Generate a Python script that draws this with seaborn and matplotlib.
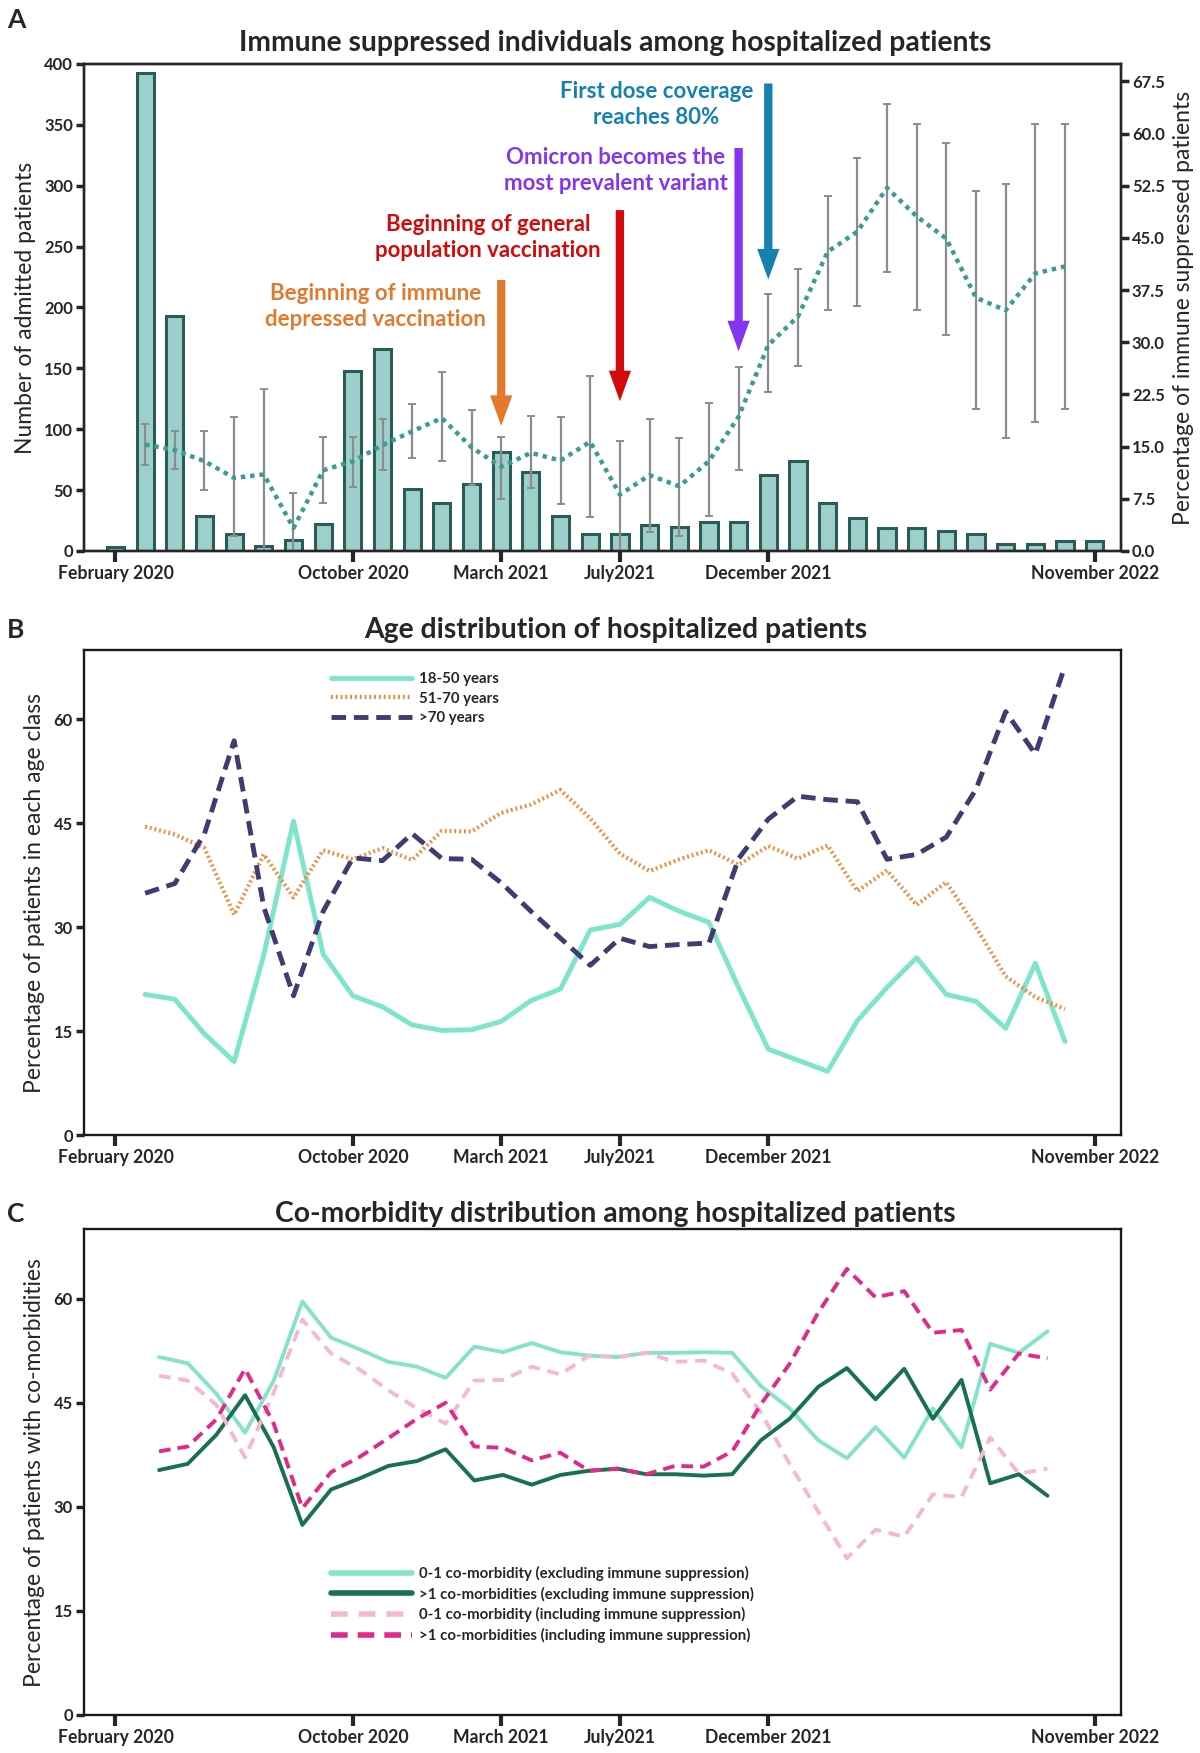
import numpy as np
import matplotlib
matplotlib.use("Agg")
import matplotlib.pyplot as plt
import seaborn as sns

sns.set_style("ticks")
plt.rcParams['font.family'] = ['Lato', 'DejaVu Sans']

# month index 0 = February 2020 ... 33 = November 2022
months = np.arange(34)
tick_pos = [0, 8, 13, 17, 22, 33]
tick_labels = ['February 2020', 'October 2020', 'March 2021', 'July2021',
               'December 2021', 'November 2022']

# panel A
admitted = [3.5, 393, 193, 29, 14, 4, 9, 22, 148, 166, 51, 39, 55, 81, 65, 29, 14,
            14, 21, 20, 24, 24, 62, 74, 39, 27, 19, 19, 16, 14, 6, 6, 8, 8]
pct_months = np.arange(1, 33)
pct_immune = [15.3, 14.5, 12.9, 10.5, 11.0, 3.3, 11.6, 12.9, 15.2, 17.2, 19.1, 14.9,
              12.1, 14.1, 13.0, 15.7, 8.1, 10.9, 9.3, 12.9, 19.3, 29.6, 33.7, 43.0,
              45.9, 52.2, 48.1, 44.9, 36.4, 34.6, 39.9, 40.9]
pct_upper = [18.2, 17.3, 17.3, 19.3, 23.3, 8.3, 16.4, 16.4, 19.0, 21.1, 25.7, 20.2,
             16.4, 19.4, 19.3, 25.2, 15.8, 19.0, 16.2, 21.2, 26.5, 37.0, 40.6, 51.0,
             56.5, 64.3, 61.4, 58.7, 51.7, 52.8, 61.4, 61.4]
pct_lower = [12.3, 11.8, 8.7, 2.2, 0.0, 0.0, 6.9, 9.2, 11.6, 13.3, 12.9, 9.5,
             7.4, 9.0, 6.7, 4.9, 0.0, 2.7, 2.1, 5.0, 11.6, 22.8, 26.6, 34.6,
             35.2, 40.1, 34.7, 31.0, 20.4, 16.3, 18.5, 20.4]

events = ['Beginning of immune\ndepressed vaccination',
          'Beginning of general\npopulation vaccination',
          'Omicron becomes the\nmost prevalent variant',
          'First dose coverage\nreaches 80%']
event_month = [13, 17, 21, 22]
event_colors = ['#E27A2E', '#D20A0A', '#8534F2', '#1581AE']

# panel B
age_18_50 = [20.3, 19.6, 14.6, 10.6, 26.0, 45.3, 26.1, 20.1, 18.5, 15.9, 15.1, 15.2,
             16.4, 19.4, 21.1, 29.6, 30.4, 34.3, 32.3, 30.7, 21.3, 12.4, 10.8, 9.2,
             16.5, 21.3, 25.6, 20.3, 19.3, 15.4, 24.8, 13.5]
age_51_70 = [44.5, 43.4, 41.4, 31.8, 40.5, 34.3, 41.1, 39.8, 41.4, 39.7, 43.9, 43.8,
             46.5, 47.7, 49.8, 45.7, 40.6, 38.1, 39.8, 41.1, 39.0, 41.7, 39.9, 41.8,
             35.2, 38.2, 33.2, 36.5, 30.0, 22.9, 19.9, 18.2]
age_70 = [34.9, 36.3, 43.5, 56.9, 32.9, 20.1, 32.3, 40.0, 39.6, 43.5, 39.9, 39.8,
          36.4, 32.3, 28.4, 24.5, 28.4, 27.2, 27.5, 27.7, 39.9, 45.6, 48.9, 48.4,
          48.1, 39.8, 40.5, 43.0, 49.9, 61.1, 55.0, 67.7]

# panel C
comorb_01_excl = [51.6, 50.7, 46.3, 40.7, 48.2, 59.6, 54.4, 52.7, 50.9, 50.2, 48.6, 53.1,
                  52.3, 53.6, 52.3, 51.8, 51.6, 52.2, 52.2, 52.3, 52.2, 47.4, 44.2, 39.6,
                  37.0, 41.5, 37.1, 44.2, 38.6, 53.5, 52.2, 55.3]
comorb_2_excl = [35.3, 36.2, 40.4, 46.1, 38.6, 27.4, 32.5, 34.1, 35.9, 36.6, 38.3, 33.8,
                 34.6, 33.2, 34.6, 35.2, 35.5, 34.7, 34.7, 34.5, 34.7, 39.6, 42.7, 47.3,
                 50.0, 45.5, 49.9, 42.7, 48.3, 33.4, 34.7, 31.6]
comorb_01_incl = [48.9, 48.2, 44.7, 37.1, 46.5, 57.0, 52.1, 49.8, 46.8, 44.2, 42.0, 48.2,
                  48.3, 50.2, 49.1, 51.8, 51.6, 52.2, 50.9, 51.1, 49.2, 43.6, 36.2, 29.3,
                  22.6, 26.7, 25.7, 31.8, 31.4, 40.0, 34.8, 35.5]
comorb_2_incl = [38.0, 38.7, 42.6, 49.9, 42.0, 29.8, 35.0, 37.2, 39.9, 42.7, 45.0, 38.7,
                 38.5, 36.7, 37.8, 35.2, 35.5, 34.7, 35.9, 35.8, 38.0, 44.8, 50.6, 58.0,
                 64.3, 60.2, 61.1, 55.1, 55.5, 46.9, 52.1, 51.4]
# panel C points are drawn slightly compressed along the month axis
comorb_x = np.linspace(1.47, 31.41, 32)

W, H = 12, 17.53
fig = plt.figure(figsize=(W, H), dpi=100)
ax_left, ax_w = 0.070, 0.864
axA = fig.add_axes([ax_left, 0.6857, ax_w, 0.2778])
axB = fig.add_axes([ax_left, 0.3525, ax_w, 0.2767])
axC = fig.add_axes([ax_left, 0.0217, ax_w, 0.2770])


def style_axis(ax):
    for s in ax.spines.values():
        s.set_visible(True)
        s.set_linewidth(1.7)
        s.set_color('#1a1a1a')
    ax.set_xlim(-1.06, 33.88)
    ax.set_xticks(tick_pos)
    ax.set_xticklabels(tick_labels, fontsize=12.7, fontweight='bold')
    ax.tick_params(axis='x', direction='out', length=8, width=3, pad=2)
    ax.tick_params(axis='y', direction='out', length=6, width=2.5, labelsize=12, pad=2)
    for lab in ax.get_yticklabels():
        lab.set_fontweight('bold')


# ---- A ----
sns.barplot(x=months, y=admitted, native_scale=True, width=0.58, color='#9DCFCB',
            saturation=1, edgecolor='#2C5C57', linewidth=2.2, errorbar=None, ax=axA)
axA.set_ylim(0, 400)
axA.set_yticks(range(0, 401, 50))
style_axis(axA)
axA.set_ylabel('Number of admitted patients', fontsize=16.5, labelpad=6)
axA.set_xlabel('')

axA2 = axA.twinx()
pct_arr = np.array(pct_immune)
axA2.errorbar(pct_months, pct_arr,
              yerr=[pct_arr - np.array(pct_lower), np.array(pct_upper) - pct_arr],
              fmt='none', ecolor='#8C8C8C', elinewidth=1.6, capsize=3, capthick=1.4)
sns.lineplot(x=pct_months, y=pct_immune, color='#3A9C92', lw=3.2,
             linestyle=(0, (1, 1.1)), ax=axA2)
axA2.set_ylim(0, 70)
axA2.set_yticks(np.arange(0, 68, 7.5))
axA2.set_yticklabels([f'{v:.1f}' for v in np.arange(0, 68, 7.5)],
                     fontsize=12, fontweight='bold')
axA2.tick_params(axis='y', direction='out', length=6, width=2.5, pad=2)
axA2.set_ylabel('Percentage of immune suppressed patients', fontsize=16.5, labelpad=6)
for s in axA2.spines.values():
    s.set_linewidth(1.7)

text_pos = [(8.76, 201), (12.55, 257.5), (16.85, 312.5), (18.23, 366.5)]
arrow_ends = [(222.6, 102.7), (280, 123), (331, 164), (384, 223)]
for label, m, col, (tx, ty), (y0, y1) in zip(events, event_month, event_colors,
                                             text_pos, arrow_ends):
    axA.text(tx, ty, label, color=col, fontsize=16, fontweight='bold',
             ha='center', va='center', linespacing=1.32)
    axA.annotate('', xy=(m, y1), xytext=(m, y0),
                 arrowprops=dict(arrowstyle='simple,head_length=2.2,head_width=1.6,tail_width=0.6',
                                 mutation_scale=10, color=col, lw=0,
                                 shrinkA=0, shrinkB=0))

# ---- B ----
sns.lineplot(x=pct_months, y=age_18_50, color='#7EE5CB', lw=3.5, ax=axB,
             label='18-50 years')
sns.lineplot(x=pct_months, y=age_51_70, color='#EE8A3A', lw=3,
             linestyle=(0, (0.45, 0.7)), ax=axB, label='51-70 years')
sns.lineplot(x=pct_months, y=age_70, color='#3F3B73', lw=3.5,
             linestyle=(0, (3, 1.6)), ax=axB, label='>70 years')
axB.set_ylim(0, 70)
axB.set_yticks([0, 15, 30, 45, 60])
style_axis(axB)
axB.set_ylabel('Percentage of patients in each age class', fontsize=16.5, labelpad=6)
axB.legend(loc='upper left', bbox_to_anchor=(0.238, 0.955), frameon=False,
           handlelength=5.4, handletextpad=0.5, labelspacing=0.38,
           borderpad=0, borderaxespad=0, prop={'weight': 'bold', 'size': 10.8})

# ---- C ----
sns.lineplot(x=comorb_x, y=comorb_01_excl, color='#86E3C9', lw=2.8, ax=axC,
             label='0-1 co-morbidity (excluding immune suppression)')
sns.lineplot(x=comorb_x, y=comorb_2_excl, color='#17704F', lw=2.8, ax=axC,
             label='>1 co-morbidities (excluding immune suppression)')
sns.lineplot(x=comorb_x, y=comorb_01_incl, color='#F5B8D3', lw=2.8,
             linestyle=(0, (3, 2)), ax=axC,
             label='0-1 co-morbidity (including immune suppression)')
sns.lineplot(x=comorb_x, y=comorb_2_incl, color='#E02A8A', lw=2.8,
             linestyle=(0, (3, 1.8)), ax=axC,
             label='>1 co-morbidities (including immune suppression)')
axC.set_ylim(0, 70)
axC.set_yticks([0, 15, 30, 45, 60])
style_axis(axC)
axC.set_ylabel('Percentage of patients with co-morbidities', fontsize=16.5, labelpad=6)
legC = axC.legend(loc='upper left', bbox_to_anchor=(0.238, 0.307), frameon=False,
                  handlelength=5.4, handletextpad=0.5, labelspacing=0.38,
                  borderpad=0, borderaxespad=0, prop={'weight': 'bold', 'size': 10.8})
for h in legC.get_lines():
    h.set_linewidth(4)

# titles and panel letters
titles = ['Immune suppressed individuals among hospitalized patients',
          'Age distribution of hospitalized patients',
          'Co-morbidity distribution among hospitalized patients']
title_y = [0.9757, 0.6406, 0.3075]
for letter, t, y in zip('ABC', titles, title_y):
    fig.text(0.5127, y, t, fontsize=20.3, fontweight='bold', ha='center', va='center')
    fig.text(0.006, y + (0.013 if letter == 'A' else 0), letter, fontsize=19,
             fontweight='bold', ha='left', va='center')

fig.savefig('out.png', dpi=100)
